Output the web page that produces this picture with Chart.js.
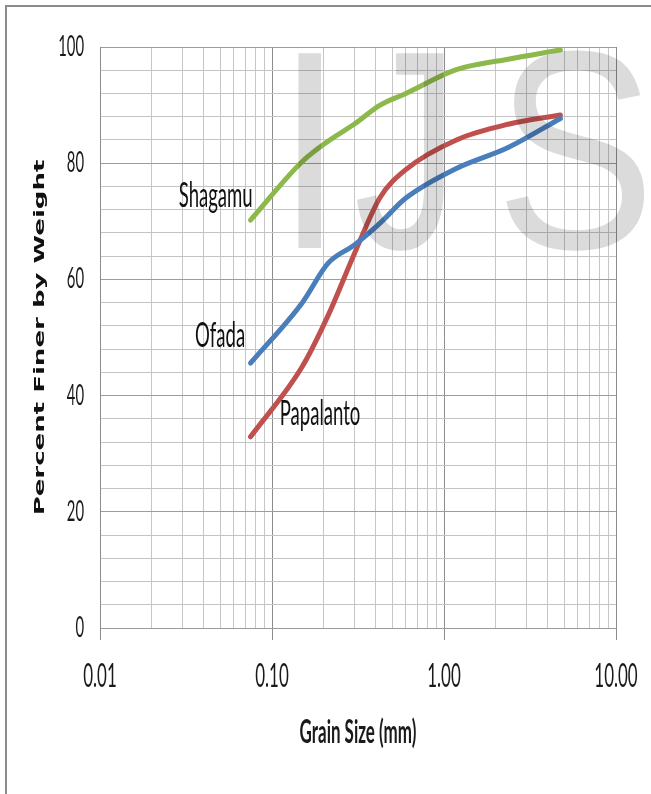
<!DOCTYPE html>
<html>
<head>
<meta charset="utf-8">
<script src="https://cdn.jsdelivr.net/npm/chart.js@4.4.1/dist/chart.umd.min.js"></script>
<style>
  html, body { margin: 0; padding: 0; background: #fff; overflow: hidden; }
  #wrap { position: relative; width: 651px; height: 794px; }
  #wrap canvas { position: absolute; left: 0; top: 0; }
  #frame { position: absolute; left: 5px; top: 5px; width: 700px; height: 820px;
           border-top: 2px solid #8c8c8c; border-left: 2px solid #8c8c8c; pointer-events: none; }
</style>
</head>
<body>
<div id="wrap">
  <canvas id="grading" width="651" height="794"></canvas>
  <div id="frame"></div>
</div>
<script>
// Sieve openings (mm) and percent passing for each soil sample
const sieveSizes = [0.075, 0.15, 0.212, 0.3, 0.425, 0.6, 1.18, 2.36, 4.75];
const shagamu    = [70.2, 80.3, 83.8, 86.7, 90.0, 92.0, 96.1, 97.9, 99.5];
const ofada      = [45.6, 56.0, 62.8, 65.9, 69.7, 74.0, 79.1, 82.7, 87.7];
const papalanto  = [32.9, 45.0, 53.8, 64.3, 74.1, 78.9, 84.0, 86.7, 88.3];

const seriesNames = ['Shagamu', 'Ofada', 'Papalanto'];

// Axis ticks
const xDecades     = [0.01, 0.1, 1, 10];
const xTickLabels  = ['0.01', '0.10', '1.00', '10.00'];
const yTickValues  = [0, 20, 40, 60, 80, 100];
const yTickLabels  = ['0', '20', '40', '60', '80', '100'];

const xTitle = 'Grain Size (mm)';
const yTitle = 'Percent Finer by Weight';
const watermark = ['I', 'J', 'S'];

// Where each curve's name sits (data units) and how it is aligned
const nameAnchors = [
  { x: 0.0772, y: 72.5, align: 'right' },
  { x: 0.0698, y: 48.4, align: 'right' },
  { x: 0.1109, y: 35.0, align: 'left' }
];

const colors = ['#8DB84B', '#4A7EBB', '#C0504D'];
const seriesValues = [shagamu, ofada, papalanto];

// Condensed text: every label is squeezed horizontally about its anchor
const SQUASH = 0.53;
const canvas = document.getElementById('grading');
const ctx = canvas.getContext('2d');
const rawFill = CanvasRenderingContext2D.prototype.fillText;
const rawMeasure = CanvasRenderingContext2D.prototype.measureText;
ctx.fillText = function (text, x, y) {
  const m = this.getTransform();
  const p = m.transformPoint(new DOMPoint(x, y));
  this.save();
  this.setTransform(new DOMMatrix().translate(p.x, p.y).scale(SQUASH, 1).translate(-p.x, -p.y).multiply(m));
  rawFill.call(this, text, x, y);
  this.restore();
};
ctx.measureText = function (text) {
  const t = rawMeasure.call(this, text);
  return {
    width: t.width * SQUASH,
    actualBoundingBoxAscent: t.actualBoundingBoxAscent,
    actualBoundingBoxDescent: t.actualBoundingBoxDescent,
    actualBoundingBoxLeft: t.actualBoundingBoxLeft * SQUASH,
    actualBoundingBoxRight: t.actualBoundingBoxRight * SQUASH
  };
};

const isDecade = v => Math.abs(Math.log10(v) - Math.round(Math.log10(v))) < 1e-6;

const datasets = seriesNames.map((name, i) => ({
  label: name,
  data: sieveSizes.map((s, k) => ({ x: s, y: seriesValues[i][k] })),
  borderColor: colors[i],
  backgroundColor: colors[i],
  borderWidth: 5,
  borderCapStyle: 'round',
  borderJoinStyle: 'round',
  pointRadius: 0,
  cubicInterpolationMode: 'monotone',
  fill: false
}));

const curveNames = {
  id: 'curveNames',
  afterDatasetsDraw(chart) {
    const { ctx, scales: { x, y } } = chart;
    ctx.save();
    ctx.font = '35px Lato';
    ctx.fillStyle = '#111';
    ctx.textBaseline = 'alphabetic';
    nameAnchors.forEach((a, i) => {
      ctx.textAlign = a.align;
      ctx.fillText(seriesNames[i], x.getPixelForValue(a.x), y.getPixelForValue(a.y));
    });
    ctx.restore();
  }
};

// Faint stamp letters laid over the plot; each letter fitted to its own box
const stampBoxes = [[295, 321.5], [357, 446], [503, 645]];
const stamp = {
  id: 'stamp',
  afterDraw(chart) {
    const c = chart.ctx;
    c.save();
    c.font = '283px "Liberation Sans"';
    c.fillStyle = 'rgba(0,0,0,0.14)';
    c.textAlign = 'left';
    c.textBaseline = 'alphabetic';
    watermark.forEach((ch, i) => {
      const m = rawMeasure.call(c, ch);
      const inkL = -m.actualBoundingBoxLeft;
      const inkR = m.actualBoundingBoxRight;
      const [bl, br] = stampBoxes[i];
      const sx = (br - bl) / (inkR - inkL);
      c.setTransform(sx, 0, 0, 1, bl - inkL * sx, 0);
      rawFill.call(c, ch, 0, 248);
    });
    c.restore();
  }
};

new Chart(ctx, {
  type: 'line',
  data: { datasets },
  plugins: [curveNames, stamp],
  options: {
    responsive: false,
    animation: false,
    devicePixelRatio: 1,
    layout: { padding: { top: 47, right: 35, left: 0, bottom: 0 } },
    plugins: { legend: { display: false }, tooltip: { enabled: false } },
    scales: {
      x: {
        type: 'logarithmic',
        min: xDecades[0],
        max: xDecades[xDecades.length - 1],
        afterBuildTicks(scale) {
          const t = [];
          xDecades.slice(0, -1).forEach(d => {
            for (let k = 1; k < 10; k++) t.push({ value: +(d * k).toPrecision(3) });
          });
          t.push({ value: xDecades[xDecades.length - 1] });
          scale.ticks = t;
        },
        afterFit(scale) { scale.height = 166; },
        ticks: {
          autoSkip: false,
          maxRotation: 0,
          minRotation: 0,
          padding: 8,
          color: '#1a1a1a',
          font: { family: 'Lato', size: 32, lineHeight: 1.82 },
          callback(v) {
            const i = xDecades.findIndex(d => Math.abs(d - v) < d * 1e-6);
            return i >= 0 ? xTickLabels[i] : '';
          }
        },
        grid: {
          color: c => (c.tick && isDecade(c.tick.value)) ? '#8c8c8c' : '#c6c6c6',
          lineWidth: 1,
          drawTicks: true,
          tickLength: 12,
          tickColor: c => (c.tick && isDecade(c.tick.value)) ? '#8c8c8c' : 'rgba(0,0,0,0)'
        },
        border: { display: true, color: '#9a9a9a' },
        title: {
          display: true,
          text: xTitle,
          color: '#1a1a1a',
          font: { family: 'Lato', size: 32, weight: 'bold' },
          padding: { top: 0, bottom: 42 }
        }
      },
      y: {
        type: 'linear',
        min: 0,
        max: 100,
        afterBuildTicks(scale) {
          const t = [];
          for (let v = 0; v <= 100; v += 4) t.push({ value: v });
          scale.ticks = t;
        },
        afterFit(scale) { scale.width = 100; },
        ticks: {
          autoSkip: false,
          padding: 16,
          color: '#1a1a1a',
          font: { family: 'Lato', size: 28 },
          callback(v) {
            const i = yTickValues.indexOf(v);
            return i >= 0 ? yTickLabels[i] : '';
          }
        },
        grid: {
          color: c => (c.tick && c.tick.value % 20 === 0) ? '#9c9c9c' : '#c4c4c4',
          lineWidth: 1,
          drawTicks: false
        },
        border: { display: true, color: '#8c8c8c' },
        title: {
          display: true,
          text: yTitle,
          color: '#111',
          font: { family: '"DejaVu Sans"', size: 26, weight: 'bold' },
          padding: { top: 25, bottom: 0 }
        }
      }
    }
  }
});
</script>
</body>
</html>
